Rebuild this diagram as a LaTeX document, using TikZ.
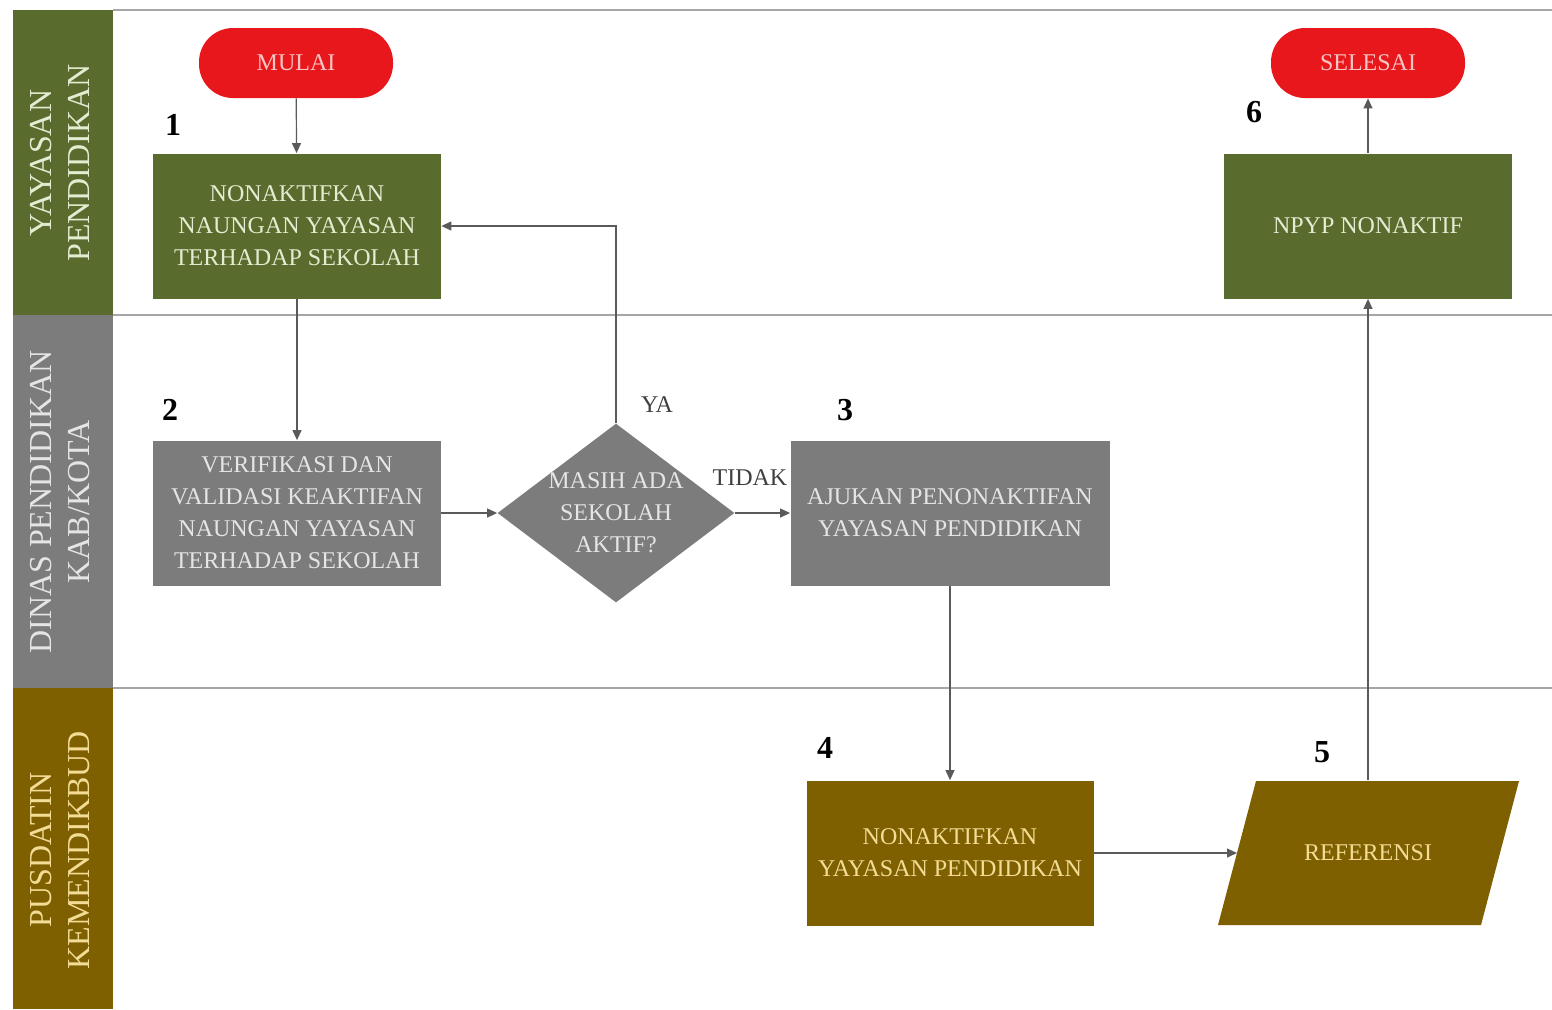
\documentclass[tikz,border=0pt]{standalone}
\usepackage{fontspec}
\setmainfont{Liberation Serif}
\usetikzlibrary{arrows.meta, positioning, shapes.geometric}
\definecolor{lGreen}{HTML}{5A6C2D}
\definecolor{lGray}{HTML}{7C7C7C}
\definecolor{lBrown}{HTML}{7F6000}
\definecolor{lRed}{HTML}{E8171B}
\definecolor{tGreen}{HTML}{E4ECD2}
\definecolor{tBrown}{HTML}{F3DC96}
\definecolor{tRed}{HTML}{F9C4C4}
\definecolor{lineGray}{HTML}{5A5A5A}

\begin{document}
\begin{tikzpicture}[x=0.5pt, y=-0.5pt,
    box/.style={minimum width=144pt, minimum height=72.5pt, inner sep=0pt, align=center, font=\fontsize{12}{16}\selectfont},
    term/.style={rounded corners=17pt, fill=lRed, text=tRed, minimum width=97pt, minimum height=35pt, font=\fontsize{12}{16}\selectfont},
    lane/.style={rotate=90, align=center, font=\fontsize{16}{19}\selectfont},
    num/.style={font=\fontsize{16}{16}\selectfont\bfseries},
    arr/.style={draw=lineGray, line width=0.6pt, -{Triangle[length=5pt, width=4.5pt]}}]
  \useasboundingbox (0,0) rectangle (1552,1009);

  % swimlanes
  \fill[lGreen] (13,10) rectangle (113,315);
  \fill[lGray] (13,315) rectangle (113,688);
  \fill[lBrown] (13,688) rectangle (113,1009);
  \foreach \y in {10,315,688}
    \draw[black!35, line width=1.2pt] (113,\y) -- (1552,\y);
  \node[lane, text=tGreen] (l1) at (60,163) {YAYASAN\\PENDIDIKAN};
  \node[lane, text=white!90!black] (l2) at (60,502) {DINAS PENDIDIKAN\\KAB/KOTA};
  \node[lane, text=tBrown] (l3) at (60,850) {PUSDATIN\\KEMENDIKBUD};

  % nodes
  \node[term] (mulai) at (296,63) {MULAI};
  \node[term] (selesai) at (1368,63) {SELESAI};
  \node[box, fill=lGreen, text=tGreen] (b1) at (297,226) {NONAKTIFKAN\\NAUNGAN YAYASAN\\TERHADAP SEKOLAH};
  \node[box, fill=lGreen, text=tGreen] (b6) at (1368,226) {NPYP NONAKTIF};
  \node[box, fill=lGray, text=white!90!black] (b2) at (297,513) {VERIFIKASI DAN\\VALIDASI KEAKTIFAN\\NAUNGAN YAYASAN\\TERHADAP SEKOLAH};
  \node[diamond, fill=lGray, minimum width=118.5pt, minimum height=89.5pt, inner sep=0pt] (cek) at (616,513) {};
  \node[box, minimum width=0pt, minimum height=0pt, text=white!90!black] (cekt) at (cek) {MASIH ADA\\SEKOLAH\\AKTIF?};
  \node[box, fill=lGray, text=white!90!black, minimum width=159.5pt] (b3) at (950,513) {AJUKAN PENONAKTIFAN\\YAYASAN PENDIDIKAN};
  \node[box, fill=lBrown, text=tBrown, minimum width=143.5pt] (b4) at (950,853) {NONAKTIFKAN\\YAYASAN PENDIDIKAN};
  % parallelogram (data)
  \fill[lBrown] (1256,781) -- (1519,781) -- (1481,925) -- (1218,925) -- cycle;
  \node[box, minimum width=112pt, text=tBrown] (b5) at (1368,853) {REFERENSI};
  \coordinate (b5w) at (1237,853);

  % step numbers
  \foreach \n/\x/\y in {1/173/125, 2/170/410, 3/845/410, 4/825/748, 5/1322/752, 6/1254/112}
    \node[num] (n\n) at (\x,\y) {\n};

  % connectors
  \draw[arr] (mulai) -- (b1);
  \draw[arr] (b1) -- (b2);
  \draw[arr] (b2) -- (cek);
  \draw[arr] (cek.north) |- (b1.east);
  \draw[arr] (cek) -- (b3);
  \draw[arr] (b3) -- (b4);
  \draw[arr] (b4) -- (b5w);
  \draw[arr] (b5.north) -- (b6.south);
  \draw[arr] (b6) -- (selesai);
  \node[text=black!75, font=\fontsize{12}{14}\selectfont] (ya) at (657,405) {YA};
  \node[text=black!75, font=\fontsize{12}{14}\selectfont] (tidak) at (750,478) {TIDAK};
\end{tikzpicture}
\end{document}
